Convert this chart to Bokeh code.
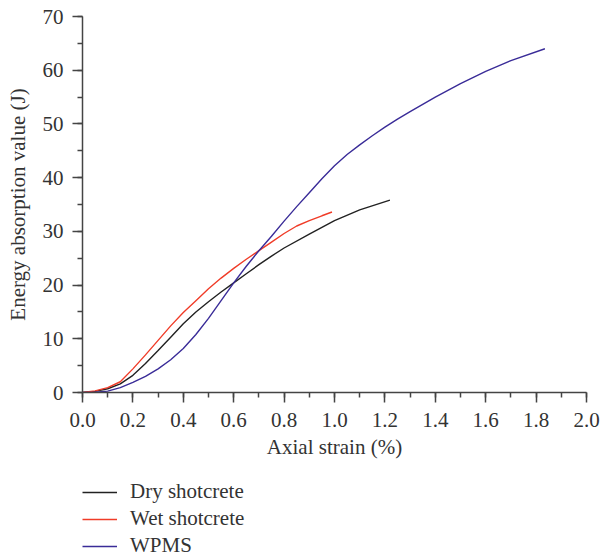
from bokeh.plotting import figure
from bokeh.layouts import column
from bokeh.models import Range1d, SingleIntervalTicker, Legend, LegendItem, NumeralTickFormatter
from bokeh.embed import file_html
from bokeh.resources import INLINE

# Data
dry_x = [0, 0.05, 0.1, 0.15, 0.2, 0.25, 0.3, 0.35, 0.4, 0.45, 0.5, 0.55, 0.6, 0.65, 0.7, 0.75,
         0.8, 0.9, 1.0, 1.1, 1.22]
dry_y = [0, 0.2, 0.7, 1.6, 3.2, 5.4, 7.8, 10.3, 12.8, 15.0, 16.9, 18.7, 20.4, 22.1, 23.8, 25.4,
         26.9, 29.5, 32.0, 34.0, 35.8]

wet_x = [0, 0.05, 0.1, 0.15, 0.2, 0.25, 0.3, 0.35, 0.4, 0.45, 0.5, 0.55, 0.6, 0.65, 0.7, 0.75,
         0.8, 0.85, 0.9, 0.95, 0.99]
wet_y = [0, 0.3, 0.9, 2.0, 4.4, 7.0, 9.7, 12.4, 14.9, 17.1, 19.3, 21.3, 23.1, 24.8, 26.4, 28.0,
         29.6, 31.0, 32.0, 32.9, 33.6]

wpms_x = [0, 0.05, 0.1, 0.15, 0.2, 0.25, 0.3, 0.35, 0.4, 0.45, 0.5, 0.55, 0.6, 0.65, 0.7, 0.75,
          0.8, 0.85, 0.9, 0.95, 1.0, 1.05, 1.1, 1.15, 1.2, 1.25, 1.3, 1.4, 1.5, 1.6, 1.7, 1.835]
wpms_y = [0, 0.05, 0.25, 0.9, 1.9, 3.0, 4.4, 6.1, 8.2, 10.8, 13.8, 17.1, 20.4, 23.5, 26.4, 29.1,
          31.9, 34.6, 37.2, 39.8, 42.2, 44.3, 46.1, 47.8, 49.4, 50.9, 52.3, 55.0, 57.5, 59.8, 61.8,
          64.0]

series_names = ["Dry shotcrete", "Wet shotcrete", "WPMS"]
series_colors = ["#222222", "#f03c28", "#3a2c98"]
series_data = [(dry_x, dry_y), (wet_x, wet_y), (wpms_x, wpms_y)]
x_title = "Axial strain (%)"
y_title = "Energy absorption value (J)"

FONT = "Liberation Serif"
TXT = "#333333"
FS = "21px"

# ---- main chart ----
p = figure(width=600, height=470, output_backend="svg", toolbar_location=None,
           x_range=Range1d(0, 2.0), y_range=Range1d(0, 70),
           min_border_left=82, min_border_right=14, min_border_top=16, min_border_bottom=78)
p.outline_line_color = None
p.xgrid.visible = False
p.ygrid.visible = False

for (xs, ys), c in zip(series_data, series_colors):
    p.line(xs, ys, line_color=c, line_width=1.4)

p.xaxis.ticker = SingleIntervalTicker(interval=0.2, num_minor_ticks=2)
p.yaxis.ticker = SingleIntervalTicker(interval=10, num_minor_ticks=2)
p.xaxis.formatter = NumeralTickFormatter(format="0.0")
p.yaxis.formatter = NumeralTickFormatter(format="0")

for ax in (p.xaxis[0], p.yaxis[0]):
    ax.axis_line_color = "#444444"
    ax.axis_line_width = 1.5
    ax.major_tick_line_color = "#444444"
    ax.minor_tick_line_color = "#444444"
    ax.major_tick_line_width = 1.5
    ax.minor_tick_line_width = 1.5
    ax.major_tick_out = 10
    ax.major_tick_in = 0
    ax.minor_tick_out = 5
    ax.minor_tick_in = 0
    ax.major_label_text_font = FONT
    ax.major_label_text_font_size = FS
    ax.major_label_text_color = TXT
    ax.axis_label_text_font = FONT
    ax.axis_label_text_font_size = FS
    ax.axis_label_text_color = TXT
    ax.axis_label_text_font_style = "normal"

p.xaxis.axis_label = x_title
p.yaxis.axis_label = y_title
p.xaxis.major_label_standoff = 10
p.yaxis.major_label_standoff = 9
p.xaxis.axis_label_standoff = 5
p.yaxis.axis_label_standoff = 10

# ---- legend strip below the chart (its lines lie outside its view; only the legend shows) ----
lg = figure(width=600, height=88, output_backend="svg", toolbar_location=None,
            x_range=Range1d(100, 101), y_range=Range1d(100, 101),
            x_axis_type=None, y_axis_type=None,
            min_border_left=82, min_border_right=14, min_border_top=0, min_border_bottom=0)
lg.outline_line_color = None
lg.xgrid.visible = False
lg.ygrid.visible = False
swatches = [lg.line(xs, ys, line_color=c, line_width=1.4)
            for (xs, ys), c in zip(series_data, series_colors)]

legend = Legend(items=[LegendItem(label=n, renderers=[r]) for n, r in zip(series_names, swatches)],
                location=(0, 0), orientation="vertical",
                label_text_font=FONT, label_text_font_size=FS, label_text_color=TXT,
                glyph_width=35, glyph_height=20, label_height=20, label_standoff=13, spacing=2,
                padding=0, margin=0, border_line_color=None, background_fill_alpha=0)
lg.add_layout(legend, "center")

layout = column(p, lg, spacing=0)
open("out.html", "w").write(file_html(layout, INLINE))
